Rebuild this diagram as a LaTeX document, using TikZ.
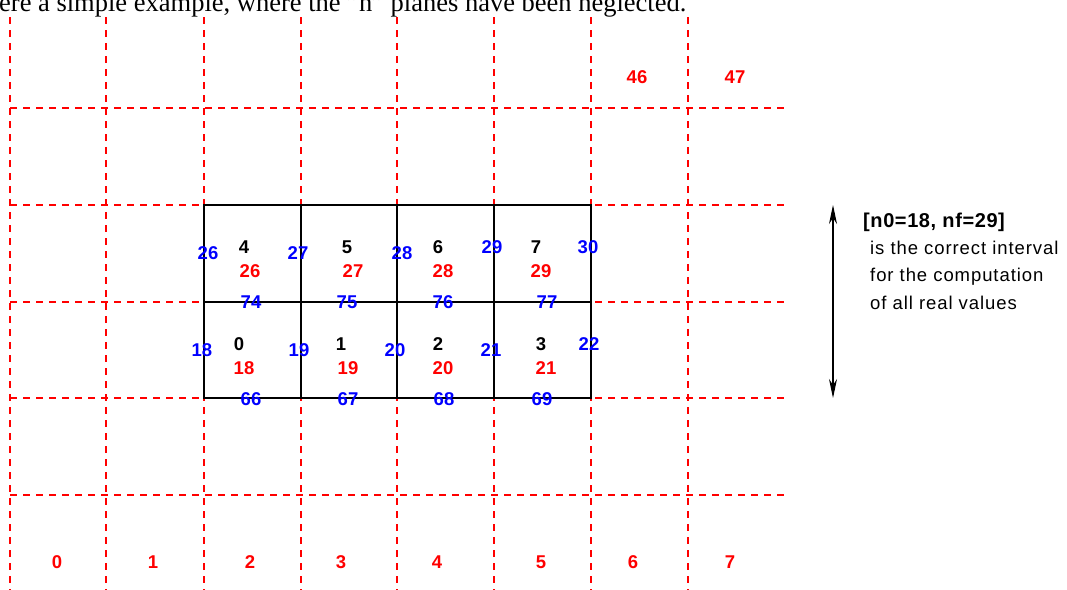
\documentclass[tikz,border=0pt]{standalone}
\usepackage{fontspec}
\setmainfont{Liberation Serif}
\newfontfamily\labfont{Liberation Sans}
\newfontfamily\notefont[LetterSpace=5]{Liberation Sans}
\newfontfamily\headfont[LetterSpace=3]{Liberation Sans}
\usetikzlibrary{arrows.meta}
\definecolor{gridred}{RGB}{255,0,0}
\definecolor{numblue}{RGB}{0,0,255}
\tikzset{
  gridline/.style={gridred, line width=1.2pt, dash pattern=on 7pt off 6pt},
  cellline/.style={black, line width=1.1pt},
  num/.style={font=\labfont\bfseries\fontsize{18.5}{18.5}\selectfont, inner sep=0pt, anchor=center},
  rnum/.style={num, text=gridred},
  bnum/.style={num, text=numblue},
  knum/.style={num, text=black},
  note/.style={font=\notefont\fontsize{18.5}{19}\selectfont, inner sep=0pt, anchor=base west},
  arrtip/.tip={Stealth[length=19pt,width=8pt,inset=6pt]},
}
\begin{document}
\begin{tikzpicture}[x=1pt,y=-1pt]
\useasboundingbox (0,0) rectangle (1067,589);
\clip (0,0) rectangle (1067,589);
\fill[white] (0,0) rectangle (1067,589);
% caption (cut at the top, as in the reference)
\node[font=\fontsize{26.5}{26.5}\selectfont, inner sep=0pt, anchor=base west] (caption) at (-1,11) {ere a simple example, where the "n" planes have been neglected.};
% dashed grid
\foreach \x in {10,106,204,301,397,494,591,688}
  \draw[gridline] (\x,17) -- (\x,600);
\foreach \y in {108,205,302,398,495}
  \draw[gridline] (10,\y) -- (785,\y);
% solid cells
\draw[cellline] (204,205) rectangle (591,398);
\draw[cellline] (204,302) -- (591,302);
\foreach \x in {301,397,494}
  \draw[cellline] (\x,205) -- (\x,398);
% bottom column indices
\node[rnum] (c0) at (57,562) {0};
\node[rnum] (c1) at (153,562) {1};
\node[rnum] (c2) at (250,562) {2};
\node[rnum] (c3) at (341,562) {3};
\node[rnum] (c4) at (437,562) {4};
\node[rnum] (c5) at (541,562) {5};
\node[rnum] (c6) at (633,562) {6};
\node[rnum] (c7) at (730,562) {7};
% top indices
\node[rnum] (t46) at (637,77) {46};
\node[rnum] (t47) at (735,77) {47};
% upper row of cells
\node[bnum] (f26) at (208,253) {26};
\node[knum] (k4) at (244,247) {4};
\node[bnum] (f27) at (298,253) {27};
\node[knum] (k5) at (347,247) {5};
\node[bnum] (f28) at (402,253) {28};
\node[knum] (k6) at (438,247) {6};
\node[bnum] (f29) at (492,247) {29};
\node[knum] (k7) at (536,247) {7};
\node[bnum] (f30) at (588,247) {30};
\node[rnum] (r26) at (250,271) {26};
\node[rnum] (r27) at (353,271) {27};
\node[rnum] (r28) at (443,271) {28};
\node[rnum] (r29) at (541,271) {29};
\node[bnum] (h74) at (251,302) {74};
\node[bnum] (h75) at (347,302) {75};
\node[bnum] (h76) at (443,302) {76};
\node[bnum] (h77) at (547,302) {77};
% lower row of cells
\node[bnum] (f18) at (202,350) {18};
\node[knum] (k0) at (239,344) {0};
\node[bnum] (f19) at (299,350) {19};
\node[knum] (k1) at (341,344) {1};
\node[bnum] (f20) at (395,350) {20};
\node[knum] (k2) at (438,344) {2};
\node[bnum] (f21) at (491,350) {21};
\node[knum] (k3) at (541,344) {3};
\node[bnum] (f22) at (589,344) {22};
\node[rnum] (r18) at (244,368) {18};
\node[rnum] (r19) at (348,368) {19};
\node[rnum] (r20) at (443,368) {20};
\node[rnum] (r21) at (546,368) {21};
\node[bnum] (h66) at (251,399) {66};
\node[bnum] (h67) at (348,399) {67};
\node[bnum] (h68) at (444,399) {68};
\node[bnum] (h69) at (542,399) {69};
% interval arrow and notes
\coordinate (atop) at (833,205);
\coordinate (abot) at (833,398);
\draw[line width=1.1pt, arrtip-arrtip] (atop) -- (abot);
\node[note, font=\headfont\bfseries\fontsize{20}{20}\selectfont] (n1) at (863,227) {[n0=18, nf=29]};
\node[note] (n2) at (870,254) {is the correct interval};
\node[note] (n3) at (870,281.5) {for the computation};
\node[note] (n4) at (870,309) {of all real values};
\end{tikzpicture}
\end{document}
